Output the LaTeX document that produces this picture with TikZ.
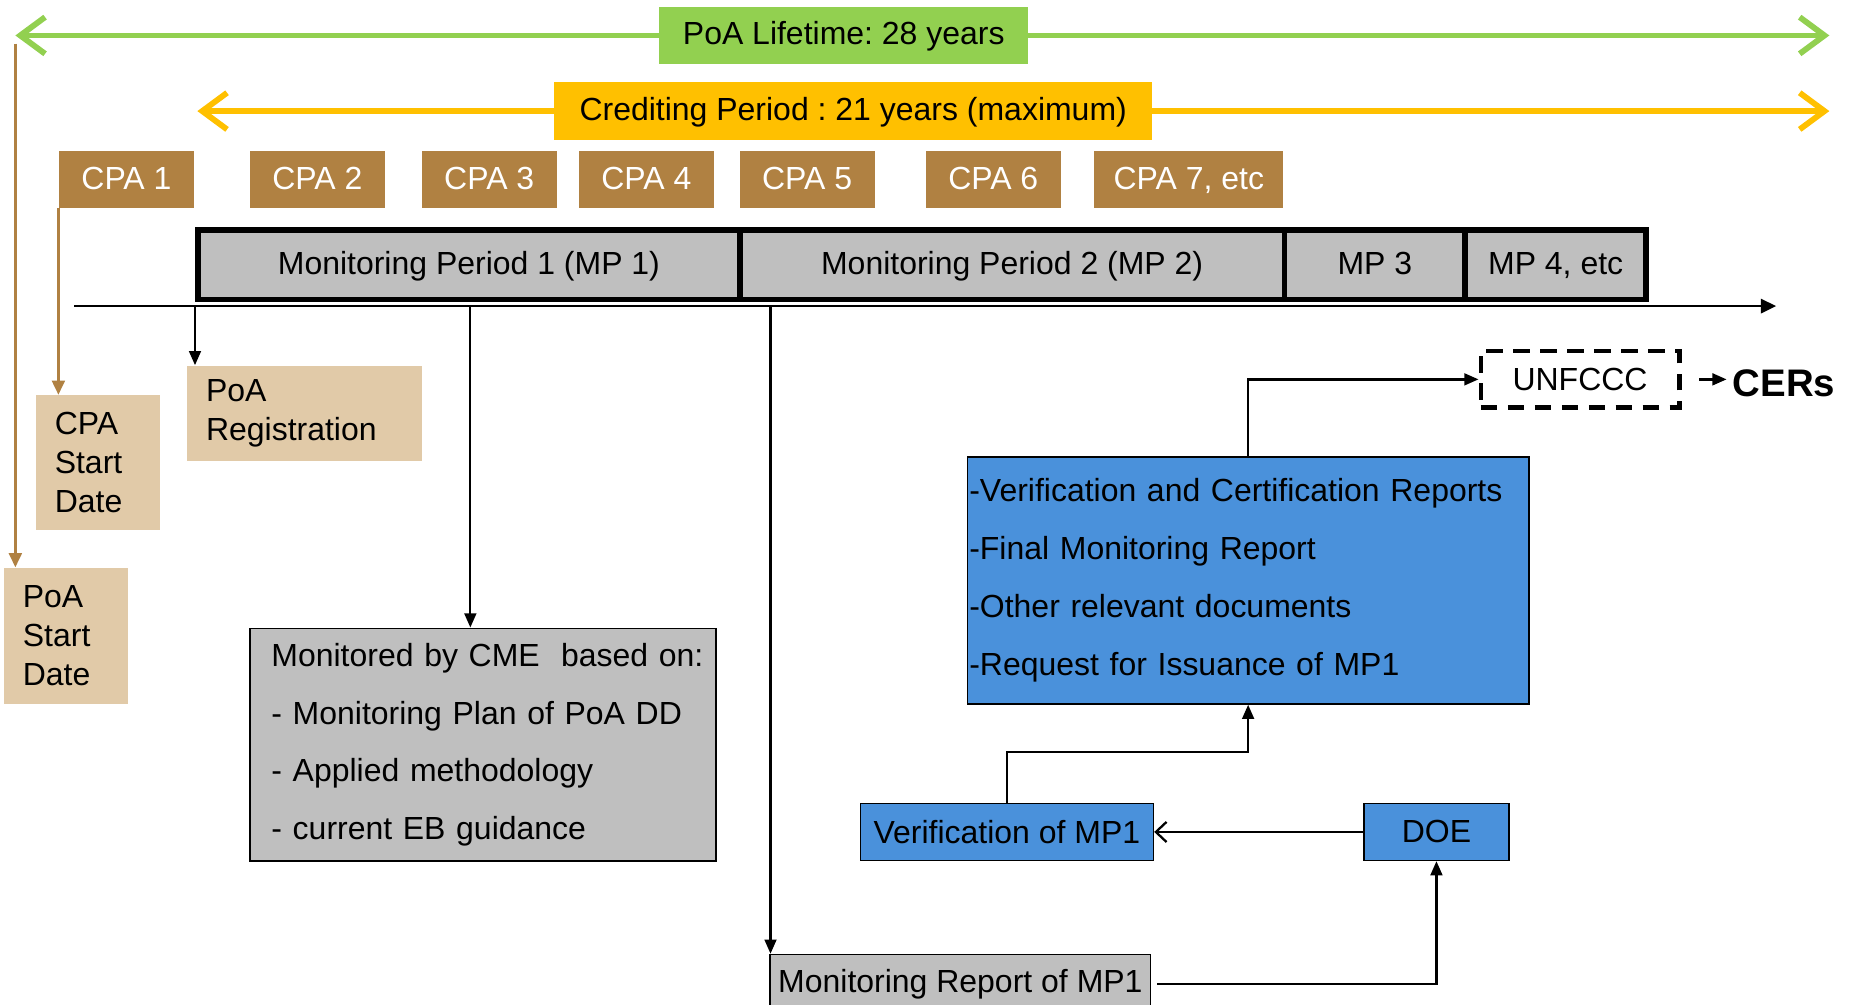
\documentclass[tikz,border=0pt]{standalone}
\usepackage{fontspec}
\setmainfont{Liberation Sans}
\frenchspacing
\usetikzlibrary{arrows.meta,positioning}

\definecolor{lifegreen}{HTML}{92D050}
\definecolor{credyellow}{HTML}{FFC000}
\definecolor{cpabrown}{HTML}{B08142}
\definecolor{datetan}{HTML}{E1CAA8}
\definecolor{mpgray}{HTML}{BFBFBF}
\definecolor{docblue}{HTML}{4A91DB}

\begin{document}
\begin{tikzpicture}[
    x=0.02cm, y=-0.02cm,
    every node/.style={font=\fontsize{15.4}{18.8}\selectfont},
    periodbox/.style={rectangle, inner sep=0pt, minimum height=0.96cm, text height=0.9em, text depth=0pt},
    cpabox/.style={rectangle, fill=cpabrown, text=white, minimum width=2.29cm, minimum height=0.96cm, inner sep=0pt, text height=0.95em, text depth=0pt},
    mpbox/.style={rectangle, draw=black, fill=mpgray, line width=2.8pt, minimum height=1.18cm, inner sep=0pt, outer sep=0pt, text height=0.95em, text depth=0pt},
    datebox/.style={rectangle, fill=datetan, align=left, inner xsep=0.32cm, anchor=north west},
    listbox/.style={rectangle, draw=black, thick, align=left, anchor=north west, font=\fontsize{15.4}{27.9}\selectfont},
    bluebox/.style={rectangle, draw=black, fill=docblue, thick, minimum height=0.96cm},
    longarrow/.style={line width=2.8pt, line cap=round, -{Straight Barb[length=0.42cm, width=0.62cm]}},
    brownarrow/.style={draw=cpabrown, line width=1.1pt, -{Triangle[length=0.24cm, width=0.22cm]}},
    blackarrow/.style={line width=1.1pt, -{Triangle[length=0.24cm, width=0.2cm]}}
]
\useasboundingbox (0,0) rectangle (1568,850);

% Lifetime and crediting period
\node[periodbox, fill=lifegreen, minimum width=6.24cm] (life) at (714,30) {PoA Lifetime: 28 years};
\node[periodbox, fill=credyellow, minimum width=10.12cm, minimum height=0.98cm] (cred) at (722,94) {Crediting Period : 21 years (maximum)};
\coordinate (lifeL) at (13,30);
\coordinate (lifeR) at (1548,30);
\coordinate (credL) at (167,94);
\coordinate (credR) at (1548,94);

% CPAs
\foreach \x/\n in {107/1, 268.5/2, 414/3, 547/4, 683/5, 840.5/6}
  \node[cpabox] (cpa\n) at (\x,152) {CPA \n};
\node[cpabox, minimum width=3.2cm] (cpa7) at (1006,152) {CPA 7, etc};

% Monitoring periods
\node[mpbox, minimum width=9.17cm] (mp1) at (396.8,224) {Monitoring Period 1 (MP 1)};
\node[mpbox, minimum width=9.22cm, anchor=west] (mp2) at (mp1.east) {Monitoring Period 2 (MP 2)};
\node[mpbox, minimum width=3.06cm, anchor=west] (mp3) at (mp2.east) {MP 3};
\node[mpbox, minimum width=3.06cm, anchor=west] (mp4) at (mp3.east) {MP 4, etc};

% Time axis
\coordinate (t0) at (63,259);
\coordinate (t1) at (1503,259);
\coordinate (d1) at (165,259);
\coordinate (d2) at (398,259);
\coordinate (d3) at (652,259);

% Dates
\node[datebox, text width=1.46cm, minimum height=2.3cm] (poastart) at (3,480) {PoA\\Start\\Date};
\node[datebox, text width=1.46cm, minimum height=2.28cm] (cpastart) at (30,334) {CPA\\Start\\Date};
\node[datebox, text width=3.34cm, minimum height=1.62cm] (poareg) at (158,309) {PoA\\Registration};
\coordinate (p0) at (13,37);

% Monitoring
\node[listbox, fill=mpgray, text width=7.16cm, inner xsep=0.36cm, minimum height=3.94cm] (cme) at (211,531) {\mbox{Monitored by CME\ \ based on:}\\- Monitoring Plan of PoA DD\\- Applied methodology\\- current EB guidance};
\node[rectangle, draw=black, fill=mpgray, thick, minimum width=6.44cm, minimum height=1cm, anchor=north west] (monrep) at (651,807) {Monitoring Report of MP1};

% Verification and issuance
\node[bluebox, minimum width=4.96cm] (verif) at (852,704) {Verification of MP1};
\node[bluebox, minimum width=2.46cm] (doe) at (1215.5,704) {DOE};
\node[listbox, fill=docblue, text width=9.44cm, inner xsep=0.03cm, minimum height=4.18cm] (docs) at (818,386) {-Verification and Certification Reports\\-Final Monitoring Report\\-Other relevant documents\\-Request for Issuance of MP1};
\node[rectangle, draw=black, line width=2.2pt, dash pattern=on 8pt off 5pt, minimum width=3.36cm, minimum height=0.96cm] (unfccc) at (1337,321) {UNFCCC};
\node[font=\fontsize{18.5}{22}\selectfont\bfseries, anchor=west, inner sep=0.1cm] (cers) at (1461,324) {CERs};

% Arrows
\draw[longarrow, draw=lifegreen] (life.west) -- (lifeL);
\draw[longarrow, draw=lifegreen] (life.east) -- (lifeR);
\draw[longarrow, draw=credyellow] (cred.west) -- (credL);
\draw[longarrow, draw=credyellow] (cred.east) -- (credR);
\draw[line width=1.3pt, -{Triangle[length=0.26cm, width=0.24cm]}] (t0) -- (t1);
\draw[brownarrow] (p0) -- (p0 |- poastart.north);
\draw[brownarrow] (cpa1.south west) -- (cpa1.south west |- cpastart.north);
\draw[blackarrow] (d1) -- (d1 |- poareg.north);
\draw[blackarrow] (d2) -- (d2 |- cme.north);
\draw[blackarrow] (d3) -- (d3 |- monrep.north);
\draw[blackarrow, shorten <=0.1cm] (monrep.east) -| (doe.south);
\draw[line width=1.1pt, -{Straight Barb[length=0.18cm, width=0.34cm]}] (doe.west) -- (verif.east);
\draw[blackarrow] (verif.north) -- ++(0,-43) -| (docs.south);
\draw[blackarrow] (docs.north) |- (unfccc.west);
\draw[blackarrow, shorten <=0.3cm] (unfccc.east) -- (unfccc.east -| cers.west);

\end{tikzpicture}
\end{document}
